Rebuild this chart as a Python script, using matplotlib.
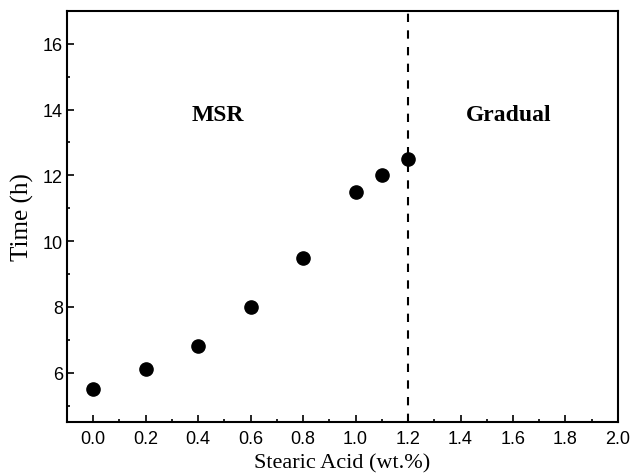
import numpy as np
import matplotlib.pyplot as plt
from matplotlib.ticker import MultipleLocator

# datos
stearic = [0.0, 0.2, 0.4, 0.6, 0.8, 1.0, 1.1, 1.2]
time_h = [5.5, 6.1, 6.8, 8.0, 9.5, 11.5, 12.0, 12.5]
limite = 1.2
regiones = ['MSR', 'Gradual']
pos_regiones = [(0.476, 13.85), (1.585, 13.85)]

fig = plt.figure(figsize=(6.34, 4.77), dpi=100)
ax = fig.add_axes([0.1057, 0.1132, 0.8690, 0.8618])

ax.plot(stearic, time_h, 'o', color='black', markersize=9.5)
ax.axvline(limite, color='black', linestyle=(0, (4, 4)), linewidth=1.5)

for txt, (x, y) in zip(regiones, pos_regiones):
    ax.text(x, y, txt, ha='center', va='center', fontsize=17,
            fontweight='bold', family='Liberation Serif')

ax.set_xlim(-0.1, 2.0)
ax.set_ylim(4.5, 17)
ax.xaxis.set_major_locator(MultipleLocator(0.2))
ax.xaxis.set_minor_locator(MultipleLocator(0.1))
ax.yaxis.set_minor_locator(MultipleLocator(1))
ax.set_yticks(np.arange(6, 17, 2))
ax.tick_params(which='both', direction='in', top=False, right=False,
               labelsize=13, width=1.2)
ax.tick_params(which='major', length=5)
ax.tick_params(which='minor', length=2.5)
ax.tick_params(axis='x', pad=6)
ax.tick_params(axis='y', pad=3)
ax.set_xticklabels(['%.1f' % v for v in ax.get_xticks()])
for lbl in ax.get_xticklabels() + ax.get_yticklabels():
    lbl.set_family('Liberation Sans')
for sp in ax.spines.values():
    sp.set_linewidth(1.5)

ax.set_xlabel('Stearic Acid (wt.%)', family='Liberation Serif', fontsize=16)
ax.set_ylabel('Time (h)', family='Liberation Serif', fontsize=18, labelpad=6)

fig.savefig('out.png', dpi=100)
